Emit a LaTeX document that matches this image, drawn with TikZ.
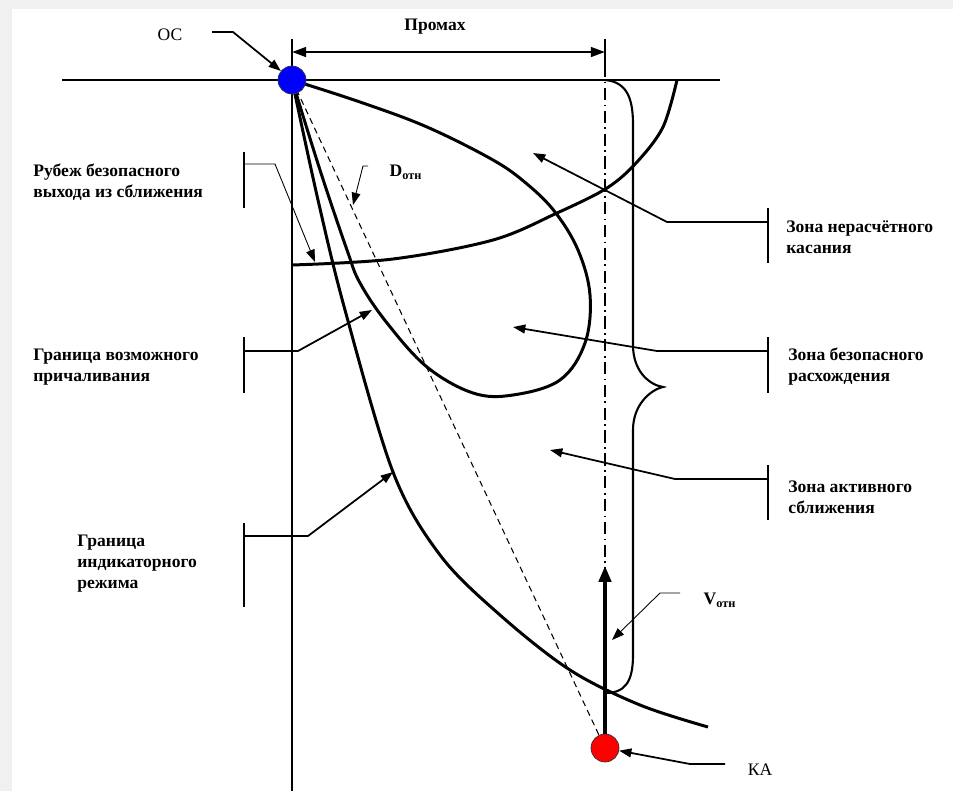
\documentclass[tikz,border=0pt]{standalone}
\usepackage{fontspec}
\setmainfont{Liberation Serif}
\usetikzlibrary{arrows.meta}
\definecolor{framegray}{HTML}{F0F0F0}
\definecolor{osblue}{HTML}{0000FF}
\definecolor{kared}{HTML}{FF0000}

\begin{document}
\begin{tikzpicture}[
  x=0.02cm, y=-0.02cm,
  lbl/.style={align=left,font=\bfseries,anchor=west,inner sep=0pt},
  curve/.style={line width=1.7pt},
  axis/.style={line width=1.1pt},
  bar/.style={line width=1.1pt},
  arr/.style={-{Triangle[length=7pt,width=5pt]},line width=1pt},
  fine/.style={-{Triangle[length=7pt,width=5pt]},line width=0.5pt},
  dim/.style={{Triangle[length=8pt,width=5.5pt]}-{Triangle[length=8pt,width=5.5pt]},line width=1.3pt},
  dot/.style={circle,draw=black!80,line width=0.4pt,minimum size=0.56cm,inner sep=0pt}
]
  \fill[framegray] (0,0) rectangle (953,791);
  \fill[white] (12,9) rectangle (953,791);

  % axes
  \draw[axis] (62,80) -- (720,80);
  \draw[axis] (292,39) -- (292,791);
  \draw[line width=0.8pt] (605,39) -- (605,65);
  \draw[line width=0.8pt,dash pattern=on 7pt off 2.5pt on 1pt off 2.5pt] (605,65) -- (605,568);
  \draw[dim] (292,52) -- (605,52);
  \node[font=\bfseries] (promah) at (435,27) {Промах};

  % boundaries
  \draw[curve] plot[smooth,tension=0.55] coordinates {(292,80) (318,200) (345,310) (393,472)
    (440,555) (500,615) (570,670) (640,705) (708,727)};
  \draw[curve] plot[smooth,tension=0.6] coordinates {(292,80) (320,170) (347,250) (360,283)
    (387,323) (427,367) (473,393) (513,395) (560,380) (585,343) (590,295) (578,250)
    (555,212) (527,184) (493,160) (427,127) (360,102) (292,80)};
  \draw[curve] plot[smooth,tension=0.55] coordinates {(292,265) (393,259) (493,240) (557,213)
    (607,188) (637,162) (663,127) (677,80)};
  \draw[line width=0.6pt,dash pattern=on 3.5pt off 2.5pt] (292,80) -- (605,748);
  \draw[line width=1.2pt] (605,80) .. controls (628,82) and (633,100) .. (633,125) -- (633,345)
    .. controls (633,372) and (650,385) .. (663,387) .. controls (650,390) and (633,405) .. (633,430)
    -- (633,655) .. controls (633,682) and (625,693) .. (605,693);

  % objects
  \node[dot,fill=osblue] (os) at (292,80) {};
  \node[dot,fill=kared] (ka) at (605,748) {};
  \draw[-{Triangle[length=9pt,width=7pt]},line width=2pt] (ka) -- (605,566);

  \node (oslbl) at (170,35) {ОС};
  \node (kalbl) at (760,770) {КА};
  \draw[arr] (212,32) -- (233,32) -- (os);
  \draw[arr] (725,764) -- (690,764) -- (ka);

  \node (dotn) at (406,172) {\bfseries D\textsubscript{отн}};
  \coordinate (dtip) at (353,205);
  \draw[fine] (368,166) -- (363,166) -- (dtip);
  \node (votn) at (720,600) {\bfseries V\textsubscript{отн}};
  \coordinate (vtip) at (612,640);
  \draw[fine] (680,593) -- (660,593) -- (vtip);

  % left labels
  \node[lbl] (rubezh) at (33,182) {Рубеж безопасного\\выхода из сближения};
  \node[lbl] (prich) at (33,367) {Граница возможного\\причаливания};
  \node[lbl] (indik) at (77,564) {Граница\\индикаторного\\режима};
  \coordinate (rtip) at (315,262);
  \coordinate (ptip) at (372,310);
  \coordinate (itip) at (393,472);
  \draw[bar] (244,152) -- (244,208);
  \draw[fine] (244,164) -- (275,164) -- (rtip);
  \draw[bar] (244,337) -- (244,393);
  \draw[arr] (244,351) -- (298,351) -- (ptip);
  \draw[bar] (244,523) -- (244,607);
  \draw[arr] (244,536) -- (308,536) -- (itip);

  % right labels
  \node[lbl] (nerasch) at (786,237) {Зона нерасчётного\\касания};
  \node[lbl] (bezop) at (788,367) {Зона безопасного\\расхождения};
  \node[lbl] (aktiv) at (788,497) {Зона активного\\сближения};
  \coordinate (ntip) at (533,153);
  \coordinate (btip) at (513,327);
  \coordinate (atip) at (550,450);
  \draw[bar] (768,208) -- (768,263);
  \draw[arr] (768,222) -- (667,222) -- (ntip);
  \draw[bar] (768,337) -- (768,393);
  \draw[arr] (768,351) -- (657,351) -- (btip);
  \draw[bar] (768,465) -- (768,520);
  \draw[arr] (768,479) -- (675,479) -- (atip);
\end{tikzpicture}
\end{document}
